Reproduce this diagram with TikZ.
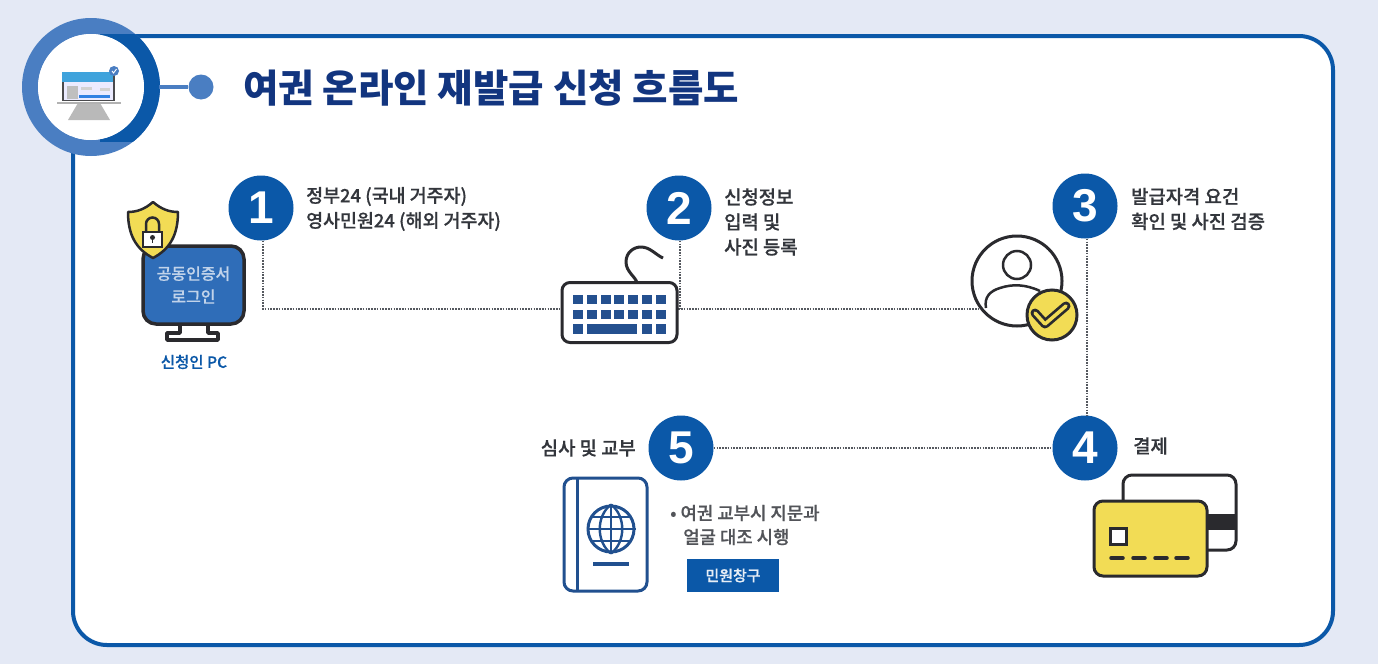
\documentclass[tikz,border=0pt]{standalone}
\usepackage{fontspec}
\setmainfont{Noto Sans CJK KR}
\newfontfamily\medfont[FakeBold=0.5]{Noto Sans CJK KR Medium}
\newfontfamily\numfont{Liberation Sans}
\definecolor{bgc}{HTML}{E4E9F5}
\definecolor{navy}{HTML}{0B58A8}
\definecolor{ringc}{HTML}{4A7EC2}
\definecolor{titlec}{HTML}{12357F}
\definecolor{ink}{HTML}{2A2A2E}
\definecolor{txtc}{HTML}{33363C}
\definecolor{yel}{HTML}{F2DC55}
\definecolor{keyc}{HTML}{24508F}
\definecolor{monc}{HTML}{2F6DB8}
\definecolor{passc}{HTML}{21508F}
\definecolor{lnkc}{HTML}{55595F}
\definecolor{bandc}{HTML}{3FA3DC}
\tikzset{
  numcirc/.style={circle,fill=navy,minimum size=65pt,inner sep=0pt,text=white,font=\numfont\bfseries\fontsize{46}{46}\selectfont},
  lbl/.style={anchor=west,inner sep=0pt,text=txtc,font=\medfont\fontsize{18.8}{25}\selectfont,align=left},
  note/.style={anchor=west,inner sep=0pt,text=txtc!85!white,font=\medfont\fontsize{17.8}{24}\selectfont},
  link/.style={draw=lnkc,line width=2.4pt,dash pattern=on 1.6pt off 1.2pt},
  icon/.style={draw=ink,line width=3pt,line join=round},
  pass/.style={draw=passc,line width=3pt},
}
\begin{document}
\begin{tikzpicture}[x=1pt,y=-1pt]
\useasboundingbox (0,0) rectangle (1378,664);
\fill[bgc] (0,0) rectangle (1378,664);
% panel
\node[draw=navy,line width=4pt,fill=white,rounded corners=34pt,minimum width=1260pt,minimum height=609pt,inner sep=0pt,anchor=north west] (panel) at (71,34) {};
% header ring
\coordinate (hc) at (91,87);
\fill[ringc,even odd rule] (hc) circle[radius=69] (hc) circle[radius=53];
\begin{scope}
\clip (100,34) rectangle (170,141);
\fill[navy,even odd rule] (hc) circle[radius=69] (hc) circle[radius=53];
\end{scope}
\fill[white] (hc) circle[radius=53];
% header icon
\fill[gray!55] (78,103) -- (100,103) -- (110,120) -- (68,120) -- cycle;
\fill[gray!60] (57,102) rectangle (121,104);
\fill[ink!85] (62,72) rectangle (115,101);
\fill[white!92!blue] (64,82) rectangle (113,100);
\fill[bandc] (62,72) rectangle (113,82);
\fill[gray!50] (67,86) rectangle (78,99);
\fill[gray!35] (81,87) rectangle (92,90);
\fill[gray!35] (100,88) rectangle (110,91);
\fill[bandc!80!blue] (79,95) rectangle (110,98);
\fill[ringc] (114,71) circle[radius=5];
\draw[white,line width=.9pt] (112,71) -- (113.5,73) -- (116.5,69);
% header connector
\node[circle,fill=ringc,minimum size=25pt,inner sep=0pt] (dot) at (201,87) {};
\coordinate (ringe) at (159,87);
\draw[ringc,line width=3.5pt] (ringe) -- (dot);
% title
\node[anchor=west,inner sep=0pt,text=titlec,font=\bfseries\fontsize{38.5}{38.5}\selectfont] (title) at (243,88) {여권 온라인 재발급 신청 흐름도};
% numbered circles
\node[numcirc] (n1) at (261,208) {1};
\node[numcirc] (n2) at (679,208) {2};
\node[numcirc] (n3) at (1085,206) {3};
\node[numcirc] (n4) at (1085,448) {4};
\node[numcirc] (n5) at (681,448) {5};
% labels
\node[lbl,font=\medfont\fontsize{18.4}{25}\selectfont] (t1) at (306,209) {정부24 (국내 거주자)\\영사민원24 (해외 거주자)};
\node[lbl] (t2) at (724,222) {신청정보\\입력 및\\사진 등록};
\node[lbl] (t3) at (1131,209) {발급자격 요건\\확인 및 사진 검증};
\node[lbl] (t4) at (1133,446) {결제};
\node[lbl,anchor=east] (t5) at (636,448) {심사 및 교부};
% icon anchors
\node[inner sep=0pt,minimum size=0pt] (kbl) at (560,309) {};
\node[inner sep=0pt,minimum size=0pt] (kbr) at (678,309) {};
\node[inner sep=0pt,minimum size=0pt] (prl) at (980,309) {};
\coordinate (c1) at (263,309);
\coordinate (c2) at (680,309);
\coordinate (c3) at (1087,309);
% connectors
\draw[link] (n1.south -| c1) -- (c1) -- (kbl);
\draw[link] (n2.south -| c2) -- (c2);
\draw[link] (kbr) -- (prl);
\draw[link] (n3.south -| c3) -- (n4.north -| c3);
\draw[link] (n5) -- (n4);
% PC
\draw[icon,line width=3.5pt] (180,324) -- (180,333) -- (167,333) -- (167,340) -- (218,340) -- (218,333) -- (208,333) -- (208,324);
\node[icon,line width=3.5pt,fill=monc,rounded corners=13pt,minimum width=101pt,minimum height=78pt,inner sep=0pt,text=white!70!monc,align=center,font=\medfont\fontsize{16}{23}\selectfont] (pc) at (193.5,285) {공동인증서\\로그인};
\draw[icon,line width=2.5pt,fill=yel] (153,202) .. controls (161,209) and (169,212) .. (178,212) .. controls (178,235) and (170,249) .. (153,258) .. controls (136,249) and (128,235) .. (128,212) .. controls (137,212) and (145,209) .. (153,202) -- cycle;
\draw[ink,line width=2.5pt] (146,232) -- (146,224) arc[start angle=180,end angle=360,radius=6.5] -- (159,232);
\draw[ink,line width=2pt,fill=white] (143,232) rectangle (162,247);
\fill[ink] (152.5,237.5) circle[radius=2.5];
\draw[ink,line width=1.5pt] (152.5,238) -- (152.5,243);
\node[inner sep=0pt,text=navy,font=\medfont\fontsize{15.5}{18}\selectfont] (pclab) at (194,362) {신청인 PC};
% keyboard
\draw[icon,line width=3pt] (637,283) .. controls (636,277) and (626,272) .. (626,262) .. controls (626,252) and (634,247) .. (641,247) .. controls (650,247) and (656,255) .. (663,258);
\node[icon,fill=white,rounded corners=8pt,minimum width=115pt,minimum height=60pt,inner sep=0pt] (kb) at (619.5,312.5) {};
\foreach \i in {0,...,6} {
  \fill[keyc] ({573+13.8*\i},295) rectangle ++(10,8.5);
  \fill[keyc] ({573+13.8*\i},310) rectangle ++(10,8.5);
}
\fill[keyc] (573,324) rectangle ++(10,10);
\fill[keyc] (587,324) rectangle (637,334);
\fill[keyc] (642,324) rectangle ++(10,10);
\fill[keyc] (656,324) rectangle ++(10,10);
% person
\node[circle,draw=ink,line width=3pt,fill=white,minimum size=90pt,inner sep=0pt] (person) at (1017,281) {};
\node[circle,draw=ink,line width=2.5pt,minimum size=28pt,inner sep=0pt] (head) at (1017,265) {};
\draw[ink,line width=2.5pt] (986,308) .. controls (984,297) and (990,291) .. (1000,288) .. controls (1012,284) and (1025,284) .. (1040,291);
\node[circle,draw=ink,line width=3pt,fill=yel,minimum size=50pt,inner sep=0pt] (chk) at (1052,315) {};
\draw[ink,line width=9pt,line cap=round,line join=round] (1035,313) -- (1045,324) -- (1066,306);
\draw[yel,line width=3.5pt,line cap=round,line join=round] (1035,313) -- (1045,324) -- (1066,306);
% card
\draw[icon,fill=white,rounded corners=9pt] (1123,510) -- (1123,475) -- (1236,475) -- (1236,550) -- (1200,550);
\fill[ink] (1205,514) rectangle (1235,530);
\node[icon,fill=yel,rounded corners=9pt,minimum width=113pt,minimum height=75pt,inner sep=0pt,anchor=north west] (card) at (1092.5,499.5) {};
\draw[ink,line width=3pt,fill=white] (1110,528) rectangle (1126,544);
\draw[ink,line width=3.5pt,line cap=round] (1111,558) -- (1123,558);
\draw[ink,line width=3.5pt,line cap=round] (1133,558) -- (1145,558);
\draw[ink,line width=3.5pt,line cap=round] (1155,558) -- (1167,558);
\draw[ink,line width=3.5pt,line cap=round] (1176,558) -- (1188,558);
% passport
\node[pass,fill=white,rounded corners=9pt,minimum width=83pt,minimum height=113pt,inner sep=0pt,anchor=north west] (passport) at (562.5,476.5) {};
\draw[pass] (577,478) -- (577,591);
\node[pass,circle,minimum size=46pt,inner sep=0pt] (globe) at (611,529) {};
\draw[passc,line width=2.4pt] (globe.north) -- (globe.south) (globe.west) -- (globe.east);
\draw[passc,line width=2.4pt] (globe.north) .. controls (596,516) and (596,542) .. (globe.south);
\draw[passc,line width=2.4pt] (globe.north) .. controls (626,516) and (626,542) .. (globe.south);
\draw[passc,line width=2.4pt] (592,517) -- (630,517) (592,541) -- (630,541);
\draw[passc,line width=4pt] (593,564) -- (629,564);
% note
\node[note] (note1) at (670,513) {• 여권 교부시 지문과};
\node[note] (note2) at (683,537) {얼굴 대조 시행};
\node[fill=navy,minimum width=92pt,minimum height=33pt,inner sep=0pt,text=white!90!navy,font=\medfont\fontsize{15}{18}\selectfont] (win) at (733,575.5) {민원창구};
\end{tikzpicture}
\end{document}
